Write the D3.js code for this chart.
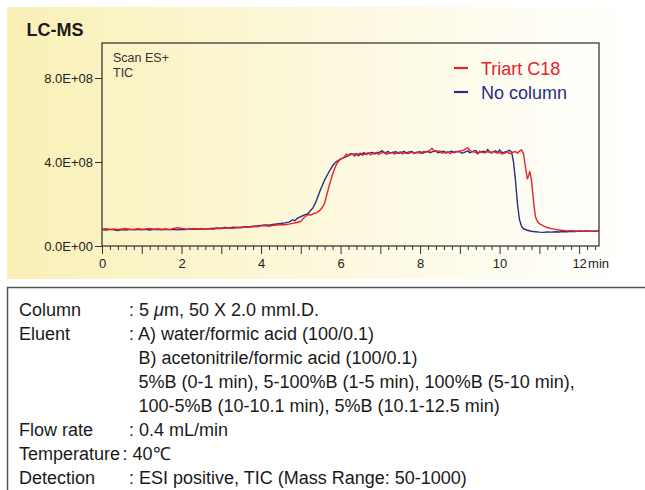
<!DOCTYPE html>
<html>
<head>
<meta charset="utf-8">
<script src="https://cdn.jsdelivr.net/npm/d3@7/dist/d3.min.js"></script>
<style>
  body { margin: 0; background: #fff; }
  svg { display: block; font-family: "Liberation Sans", Arial, sans-serif; }
  .axis text { font-size: 13px; fill: #222; }
  .axis line { stroke: #333; }
  .axis path { display: none; }
</style>
</head>
<body>
<svg></svg>
<script>
'use strict';

// TIC traces, [time (min), intensity (x 1E+08)]
var triartC18 = [
  [0,0.80],[0.1,0.82],[0.2,0.79],[0.3,0.81],[0.4,0.78],[0.5,0.81],[0.6,0.83],[0.7,0.80],[0.8,0.79],[0.9,0.82],
  [1.0,0.80],[1.1,0.81],[1.2,0.84],[1.3,0.79],[1.4,0.82],[1.5,0.80],[1.6,0.81],[1.7,0.78],[1.8,0.84],[1.9,0.87],
  [2.0,0.84],[2.1,0.81],[2.2,0.80],[2.3,0.83],[2.4,0.81],[2.5,0.83],[2.6,0.80],[2.7,0.82],[2.8,0.79],[2.9,0.84],
  [3.0,0.83],[3.1,0.85],[3.2,0.86],[3.3,0.84],[3.4,0.88],[3.5,0.87],[3.6,0.90],[3.7,0.89],[3.8,0.93],[3.9,0.91],
  [4.0,0.96],[4.1,0.97],[4.2,0.94],[4.3,0.98],[4.4,1.00],[4.5,1.02],[4.6,1.01],[4.7,1.04],[4.8,1.08],[4.9,1.12],
  [5.0,1.18],[5.05,1.28],[5.1,1.38],[5.15,1.45],[5.2,1.50],[5.25,1.47],[5.3,1.52],[5.35,1.56],[5.4,1.58],[5.45,1.66],
  [5.5,1.74],[5.55,1.86],[5.6,2.05],[5.65,2.40],[5.7,2.78],[5.75,3.10],[5.8,3.42],[5.85,3.68],[5.9,3.90],[5.95,4.04],
  [6.0,4.14],[6.1,4.24],[6.15,4.38],[6.2,4.30],[6.3,4.38],[6.35,4.28],[6.4,4.34],[6.5,4.42],[6.55,4.32],[6.6,4.37],
  [6.7,4.44],[6.75,4.34],[6.8,4.39],[6.9,4.46],[6.95,4.36],[7.0,4.41],[7.1,4.47],[7.15,4.37],[7.2,4.40],[7.3,4.46],
  [7.35,4.38],[7.4,4.42],[7.5,4.48],[7.55,4.39],[7.6,4.44],[7.7,4.40],[7.8,4.47],[7.85,4.40],[7.9,4.45],[8.0,4.43],
  [8.1,4.50],[8.2,4.47],[8.25,4.56],[8.3,4.66],[8.35,4.52],[8.4,4.50],[8.5,4.53],[8.55,4.42],[8.6,4.44],[8.7,4.49],
  [8.75,4.40],[8.8,4.45],[8.9,4.50],[9.0,4.52],[9.1,4.58],[9.15,4.62],[9.2,4.68],[9.25,4.56],[9.3,4.50],[9.4,4.46],
  [9.45,4.38],[9.5,4.52],[9.6,4.43],[9.65,4.50],[9.7,4.48],[9.8,4.42],[9.85,4.50],[9.9,4.44],[10.0,4.45],[10.05,4.38],
  [10.1,4.40],[10.2,4.48],[10.25,4.40],[10.3,4.44],[10.4,4.50],[10.45,4.42],[10.5,4.52],[10.55,4.58],[10.6,4.40],[10.65,3.75],
  [10.7,3.20],[10.73,3.35],[10.76,3.55],[10.8,3.15],[10.85,2.20],[10.9,1.40],[10.95,1.18],[11.0,1.06],[11.1,0.96],[11.2,0.88],
  [11.3,0.83],[11.4,0.79],[11.5,0.76],[11.6,0.74],[11.7,0.72],[11.8,0.73],[11.9,0.71],[12.0,0.72],[12.1,0.70],[12.2,0.72],
  [12.3,0.70],[12.4,0.71],[12.5,0.72]
];

var noColumn = [
  [0,0.78],[0.1,0.76],[0.2,0.79],[0.3,0.77],[0.4,0.74],[0.5,0.78],[0.6,0.76],[0.7,0.79],[0.8,0.77],[0.9,0.80],
  [1.0,0.77],[1.1,0.79],[1.2,0.76],[1.3,0.80],[1.4,0.78],[1.5,0.77],[1.6,0.80],[1.7,0.78],[1.8,0.79],[1.9,0.77],
  [2.0,0.80],[2.1,0.78],[2.2,0.81],[2.3,0.79],[2.4,0.80],[2.5,0.82],[2.6,0.80],[2.7,0.83],[2.8,0.84],[2.9,0.86],
  [3.0,0.85],[3.1,0.88],[3.2,0.86],[3.3,0.89],[3.4,0.88],[3.5,0.90],[3.6,0.92],[3.7,0.91],[3.8,0.94],[3.9,0.96],
  [4.0,0.98],[4.1,1.00],[4.2,0.99],[4.3,1.03],[4.4,1.05],[4.5,1.07],[4.6,1.10],[4.7,1.14],[4.8,1.25],[4.85,1.20],
  [4.9,1.30],[5.0,1.40],[5.05,1.44],[5.1,1.48],[5.15,1.52],[5.2,1.58],[5.25,1.70],[5.3,1.80],[5.35,1.98],[5.4,2.20],
  [5.45,2.45],[5.5,2.70],[5.55,2.92],[5.6,3.15],[5.65,3.32],[5.7,3.50],[5.75,3.66],[5.8,3.82],[5.85,3.94],[5.9,4.02],
  [5.95,4.08],[6.0,4.14],[6.1,4.22],[6.2,4.30],[6.25,4.40],[6.3,4.36],[6.4,4.40],[6.45,4.30],[6.5,4.37],[6.6,4.44],
  [6.65,4.36],[6.7,4.41],[6.8,4.46],[6.85,4.38],[6.9,4.43],[7.0,4.48],[7.05,4.54],[7.1,4.42],[7.2,4.50],[7.25,4.42],
  [7.3,4.45],[7.4,4.49],[7.45,4.41],[7.5,4.44],[7.6,4.51],[7.65,4.43],[7.7,4.47],[7.8,4.50],[7.85,4.42],[7.9,4.46],
  [8.0,4.49],[8.05,4.41],[8.1,4.45],[8.2,4.52],[8.25,4.44],[8.3,4.48],[8.4,4.54],[8.45,4.44],[8.5,4.47],[8.6,4.51],
  [8.65,4.43],[8.7,4.46],[8.8,4.52],[8.85,4.44],[8.9,4.48],[9.0,4.50],[9.05,4.42],[9.1,4.45],[9.2,4.53],[9.25,4.44],
  [9.3,4.48],[9.4,4.55],[9.45,4.44],[9.5,4.46],[9.6,4.52],[9.65,4.44],[9.7,4.60],[9.75,4.48],[9.8,4.47],[9.9,4.53],
  [9.95,4.44],[10.0,4.58],[10.05,4.46],[10.1,4.46],[10.2,4.52],[10.25,4.56],[10.3,4.48],[10.35,4.00],[10.4,3.10],[10.45,2.00],
  [10.5,1.25],[10.55,0.95],[10.6,0.82],[10.7,0.75],[10.8,0.70],[10.9,0.68],[11.0,0.66],[11.1,0.65],[11.2,0.67],[11.3,0.66],
  [11.4,0.68],[11.5,0.67],[11.6,0.69],[11.7,0.68],[11.8,0.70],[11.9,0.69],[12.0,0.71],[12.1,0.70],[12.2,0.72],[12.3,0.71],
  [12.4,0.70],[12.5,0.72]
];

var seriesNames = ['Triart C18', 'No column'];
var seriesColors = ['#e8212b', '#272d86'];

var xMajorTicks = [0, 1, 2, 3, 4, 5, 6, 7, 8, 9, 10, 11, 12];
var xLabelTicks = [0, 2, 4, 6, 8, 10, 12];
var yTicks = [0, 4e8, 8e8];

var specLabels = ['Column', 'Eluent', '', '', '', 'Flow rate', 'Temperature', 'Detection'];
var specValues = [
  ': 5 |μ|m, 50 X 2.0 mmI.D.',
  ': A) water/formic acid (100/0.1)',
  'B) acetonitrile/formic acid (100/0.1)',
  '5%B (0-1 min), 5-100%B (1-5 min), 100%B (5-10 min),',
  '100-5%B (10-10.1 min), 5%B (10.1-12.5 min)',
  ': 0.4 mL/min',
  ': 40℃',
  ': ESI positive, TIC (Mass Range: 50-1000)'
];

var canvasWidth = 645,
  canvasHeight = 490,
  plot = { left: 102, top: 43, right: 599, bottom: 246 },
  svg = d3.select('svg')
    .attr('width', canvasWidth)
    .attr('height', canvasHeight);

var xScale = d3.scaleLinear().domain([0, 12.5]).range([plot.left, plot.right]);
var yScale = d3.scaleLinear().domain([0, 9.667e8]).range([plot.bottom, plot.top]);

// yellow panel behind the chart
var grad = svg.append('defs').append('linearGradient')
  .attr('id', 'panelGrad')
  .attr('x1', '0%').attr('x2', '100%').attr('y1', '0%').attr('y2', '0%');
grad.append('stop').attr('offset', '0%').attr('stop-color', '#f9f0b6');
grad.append('stop').attr('offset', '55%').attr('stop-color', '#fdf9e0');
grad.append('stop').attr('offset', '100%').attr('stop-color', '#ffffff');

svg.append('rect')
  .attr('x', 7).attr('y', 7)
  .attr('width', 633).attr('height', 272)
  .attr('fill', 'url(#panelGrad)');

svg.append('text')
  .attr('x', 26.5).attr('y', 36)
  .style('font-size', '18px')
  .style('font-weight', 'bold')
  .style('fill', '#1a1a1a')
  .text('LC-MS');

// axes
var minorTicks = d3.range(0, 12.5, 0.2).filter(function(t) {
  return Math.abs(t - Math.round(t)) > 0.01;
});

svg.append('g')
  .attr('class', 'axis')
  .attr('transform', 'translate(0,' + plot.bottom + ')')
  .call(d3.axisBottom(xScale).tickValues(minorTicks).tickSize(4).tickFormat(''));

svg.append('g')
  .attr('class', 'axis')
  .attr('transform', 'translate(0,' + plot.bottom + ')')
  .call(d3.axisBottom(xScale)
    .tickValues(xMajorTicks)
    .tickSize(8)
    .tickPadding(5)
    .tickFormat(function(d) { return xLabelTicks.indexOf(d) >= 0 ? d : ''; }));

svg.append('text')
  .attr('x', xScale(12) + 9).attr('y', plot.bottom + 22)
  .style('font-size', '13px')
  .style('fill', '#222')
  .text('min');

function sciFormat(d) {
  if (d === 0) return '0.0E+00';
  var e = Math.floor(Math.log10(d));
  var m = d / Math.pow(10, e);
  return m.toFixed(1) + 'E+' + (e < 10 ? '0' + e : e);
}

svg.append('g')
  .attr('class', 'axis')
  .attr('transform', 'translate(' + plot.left + ',0)')
  .call(d3.axisLeft(yScale).tickValues(yTicks).tickSize(7).tickPadding(2).tickFormat(sciFormat));

// traces
var line = d3.line()
  .x(function(d) { return xScale(d[0]); })
  .y(function(d) { return yScale(d[1] * 1e8); });

[noColumn, triartC18].forEach(function(data, i) {
  svg.append('path')
    .datum(data)
    .attr('fill', 'none')
    .attr('stroke', seriesColors[1 - i])
    .attr('stroke-width', 1.4)
    .attr('stroke-linejoin', 'round')
    .attr('d', line);
});

svg.append('rect')
  .attr('x', plot.left).attr('y', plot.top)
  .attr('width', plot.right - plot.left).attr('height', plot.bottom - plot.top)
  .attr('fill', 'none')
  .attr('stroke', '#3a3a3a')
  .attr('stroke-width', 1.3);

svg.append('text')
  .attr('x', 113).attr('y', 62)
  .style('font-size', '12.5px')
  .style('fill', '#333')
  .text('Scan ES+');
svg.append('text')
  .attr('x', 113).attr('y', 77)
  .style('font-size', '12.5px')
  .style('fill', '#333')
  .text('TIC');

// legend
seriesNames.forEach(function(name, i) {
  var ly = 68 + i * 24;
  svg.append('line')
    .attr('x1', 454).attr('x2', 468)
    .attr('y1', ly).attr('y2', ly)
    .attr('stroke', seriesColors[i])
    .attr('stroke-width', 2.2);
  svg.append('text')
    .attr('x', 481).attr('y', ly + 7)
    .style('font-size', '18px')
    .style('fill', seriesColors[i])
    .text(name);
});

// conditions box
svg.append('rect')
  .attr('x', 7.5).attr('y', 287.5)
  .attr('width', 700).attr('height', 300)
  .attr('fill', '#fff')
  .attr('stroke', '#555')
  .attr('stroke-width', 1.5);

specLabels.forEach(function(label, i) {
  var by = 316 + i * 24;
  svg.append('text')
    .attr('x', 19).attr('y', by)
    .style('font-size', '18px')
    .style('fill', '#1a1a1a')
    .text(label);

  var val = specValues[i];
  var vx = val.charAt(0) === ':' ? (label === 'Temperature' ? 122.5 : 129) : 138.5;
  var t = svg.append('text')
    .attr('x', vx).attr('y', by)
    .style('font-size', '18px')
    .style('fill', '#1a1a1a');
  val.split('|').forEach(function(part, j) {
    t.append('tspan')
      .style('font-style', j === 1 ? 'italic' : 'normal')
      .text(part);
  });
});
</script>
</body>
</html>
